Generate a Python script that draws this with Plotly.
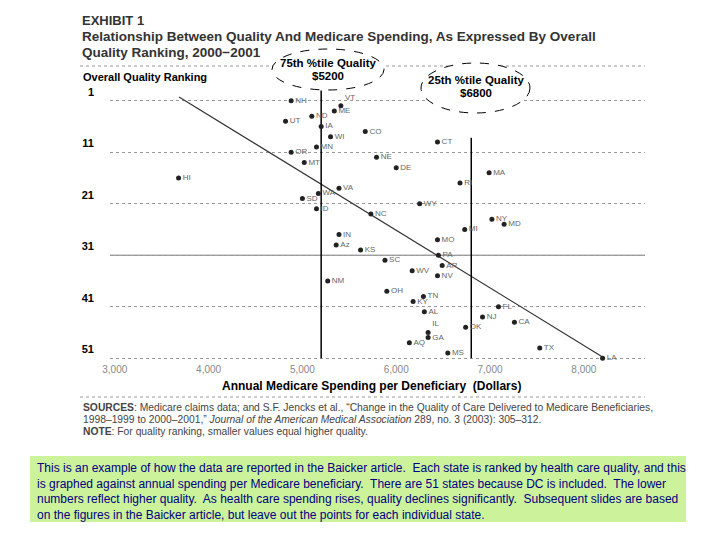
import plotly.graph_objects as go

# ---------------- data ----------------
states = ["NH", "VT", "ME", "ND", "UT", "IA", "CO", "WI", "CT", "MN",
          "OR", "NE", "MT", "DE", "MA", "HI", "RI", "VA", "WA", "SD",
          "WY", "ID", "NC", "NY", "MD", "MI", "IN", "MO", "Az", "KS",
          "PA", "SC", "AR", "WV", "NV", "NM", "OH", "TN", "KY", "FL",
          "AL", "NJ", "CA", "OK", "IL", "GA", "AQ", "TX", "MS", "LA"]
spending = [4880, 5410, 5340, 5100, 4820, 5200, 5670, 5300, 6440, 5150,
            4880, 5790, 5020, 6000, 6990, 3680, 6680, 5390, 5170, 5000,
            6250, 5150, 5730, 7020, 7150, 6730, 5390, 6440, 5360, 5620,
            6450, 5880, 6490, 6170, 6440, 5270, 5900, 6290, 6180, 7090,
            6300, 6920, 7260, 6740, 6340, 6340, 6140, 7530, 6550, 8200]
rank = [1, 2, 3, 4, 5, 6, 7, 8, 9, 10,
        11, 12, 13, 14, 15, 16, 17, 18, 19, 20,
        21, 22, 23, 24, 25, 26, 27, 28, 29, 30,
        31, 32, 33, 34, 35, 36, 38, 39, 40, 41,
        42, 43, 44, 45, 46, 47, 48, 49, 50, 51]

fit_intercept = -40.91
fit_slope = 0.011179
fit_spend = [3685, 8204]

pct75_spend = 5200
pct25_spend = 6800

x_tickvals = [3000, 4000, 5000, 6000, 7000, 8000]
x_ticktext = ["3,000", "4,000", "5,000", "6,000", "7,000", "8,000"]
y_tickvals = [1, 11, 21, 31, 41, 51]
y_ticktext = ["1", "11", "21", "31", "41", "51"]

# ---------------- layout geometry (window pixels; page body has an 8px margin) ----------------
OFF = 8
W, H = 720 - OFF, 540 - OFF
PL, PR, PT, PB = 110, 645, 85, 362          # plot box in window pixels
L, R, T, B = PL - OFF, W - (PR - OFF), PT - OFF, H - (PB - OFF)
PW, PH = PR - PL, PB - PT


def px(xp):
    return (xp - PL) / PW


def py(yp):
    return (PB - yp) / PH


FONT = "Liberation Sans, Arial, sans-serif"

fig = go.Figure()

# regression line
fig.add_trace(go.Scatter(
    x=fit_spend,
    y=[fit_intercept + fit_slope * v for v in fit_spend],
    mode="lines", line=dict(color="#333333", width=1.2),
    hoverinfo="skip", showlegend=False))

# percentile lines
fig.add_trace(go.Scatter(x=[pct75_spend, pct75_spend], y=[51, -1.0],
                         mode="lines", line=dict(color="black", width=1.5),
                         hoverinfo="skip", showlegend=False))
fig.add_trace(go.Scatter(x=[pct25_spend, pct25_spend], y=[51, 8.2],
                         mode="lines", line=dict(color="black", width=1.5),
                         hoverinfo="skip", showlegend=False))

# states
label_pos = ["top right" if s in ("VT", "IL") else "middle right" for s in states]
fig.add_trace(go.Scatter(
    x=spending, y=rank, text=states, mode="markers+text",
    marker=dict(color="#222222", size=5),
    textposition=label_pos,
    textfont=dict(family=FONT, size=8, color="#666666"),
    showlegend=False))

shapes = []
shapes.append(dict(type="line", xref="paper", yref="y", x0=0, x1=1, y0=31, y1=31,
                   line=dict(color="#777777", width=1), layer="below"))
shapes.append(dict(type="line", xref="paper", yref="paper", x0=px(80), x1=px(645),
                   y0=py(66), y1=py(66), line=dict(color="#999999", width=1, dash="dot")))
shapes.append(dict(type="line", xref="paper", yref="paper", x0=px(80), x1=px(645),
                   y0=py(397), y1=py(397), line=dict(color="#999999", width=1, dash="dot")))
shapes.append(dict(type="circle", xref="paper", yref="paper",
                   x0=px(272), x1=px(384), y0=py(49), y1=py(90),
                   line=dict(color="black", width=1, dash="dash"), fillcolor="white", layer="above"))
shapes.append(dict(type="circle", xref="paper", yref="paper",
                   x0=px(421), x1=px(530), y0=py(63), y1=py(113),
                   line=dict(color="black", width=1, dash="dash"), fillcolor="white", layer="above"))
shapes.append(dict(type="rect", xref="paper", yref="paper",
                   x0=px(30), x1=px(686), y0=py(522), y1=py(456),
                   line=dict(width=0), fillcolor="#cdf29c", layer="below"))

ann = []


def text(xp, yp, s, size, color="#333333", bold=False, xanchor="left", yanchor="middle", align="left"):
    ann.append(dict(xref="paper", yref="paper", x=px(xp), y=py(yp), text=s, showarrow=False,
                    xanchor=xanchor, yanchor=yanchor, align=align,
                    font=dict(family=FONT, size=size, color=color, weight="bold" if bold else "normal")))


text(80, 20, "EXHIBIT 1", 13, "#333333", True)
text(80, 37, "Relationship Between Quality And Medicare Spending, As Expressed By Overall", 13.5, "#333333", True)
text(80, 53, "Quality Ranking, 2000\u22122001", 13.5, "#333333", True)
text(81, 77, "Overall Quality Ranking", 11, "black", True)
text(328, 63, "75th %tile Quality", 11.5, "black", True, "center")
text(328, 76, "$5200", 11.5, "black", True, "center")
text(476, 80, "25th %tile Quality", 11.5, "black", True, "center")
text(476, 93, "$6800", 11.5, "black", True, "center")
text(371, 386, "Annual Medicare Spending per Deneficiary\u00a0 (Dollars)", 12, "black", True, "center")
text(81, 407, "<b>SOURCES</b>: Medicare claims data; and S.F. Jencks et al., \u201cChange in the Quality of Care Delivered to Medicare Beneficiaries,", 10.3, "#444444")
text(81, 419, "1998\u20131999 to 2000\u20132001,\u201d <i>Journal of the American Medical Association</i> 289, no. 3 (2003): 305\u2013312.", 10.3, "#444444")
text(81, 431, "<b>NOTE</b>: For quality ranking, smaller values equal higher quality.", 10.3, "#444444")

note = ("This is an example of how the data are reported in the Baicker article.\u00a0 Each state is ranked by health care quality, and this<br>"
        "is graphed against annual spending per Medicare beneficiary.\u00a0 There are 51 states because DC is included.\u00a0 The lower<br>"
        "numbers reflect higher quality.\u00a0 As health care spending rises, quality declines significantly.\u00a0 Subsequent slides are based<br>"
        "on the figures in the Baicker article, but leave out the points for each individual state.")
text(35, 459, note, 12, "#000080", False, "left", "top")

fig.update_layout(
    width=W, height=H, autosize=False,
    margin=dict(l=L, r=R, t=T, b=B, pad=0),
    paper_bgcolor="white", plot_bgcolor="white",
    shapes=shapes, annotations=ann,
    xaxis=dict(range=[2949, 8652], tickvals=x_tickvals, ticktext=x_ticktext,
               showgrid=False, zeroline=False, showline=False, ticks="",
               tickfont=dict(family=FONT, size=10, color="#888888")),
    yaxis=dict(range=[51.74, -2.05], tickvals=y_tickvals, ticktext=y_ticktext,
               showgrid=True, gridcolor="#999999", griddash="dot", gridwidth=1,
               zeroline=False, showline=False, ticks="",
               ticklabelstandoff=15, ticklabelshift=9,
               tickfont=dict(family=FONT, size=11, color="black", weight="bold")),
)

fig.write_html("out.html")
